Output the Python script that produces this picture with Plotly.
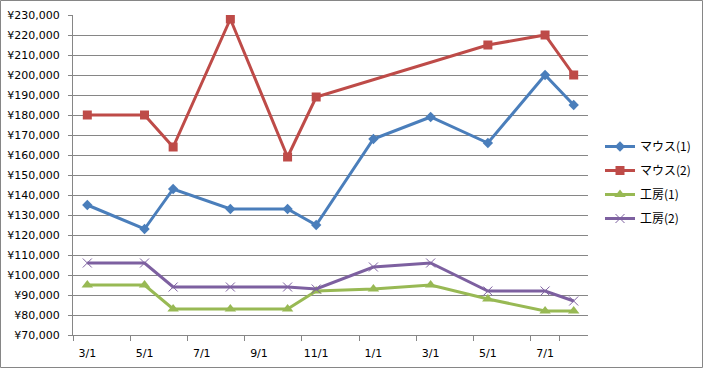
import plotly.graph_objects as go

# all months on the axis (category slots)
months = ["2011-03", "2011-04", "2011-05", "2011-06", "2011-07", "2011-08", "2011-09",
          "2011-10", "2011-11", "2011-12", "2012-01", "2012-02", "2012-03", "2012-04",
          "2012-05", "2012-06", "2012-07", "2012-08"]
tick_months = ["2011-03", "2011-05", "2011-07", "2011-09", "2011-11",
               "2012-01", "2012-03", "2012-05", "2012-07"]
tick_labels = ["3/1", "5/1", "7/1", "9/1", "11/1", "1/1", "3/1", "5/1", "7/1"]

# observation months
dates = ["2011-03", "2011-05", "2011-06", "2011-08", "2011-10", "2011-11",
         "2012-01", "2012-03", "2012-05", "2012-07", "2012-08"]

mouse1 = [135000, 123000, 143000, 133000, 133000, 125000, 168000, 179000, 166000, 200000, 185000]
mouse2 = [180000, 180000, 164000, 228000, 159000, 189000, None, None, 215000, 220000, 200000]
kobo1 = [95000, 95000, 83000, 83000, 83000, 92000, 93000, 95000, 88000, 82000, 82000]
kobo2 = [106000, 106000, 94000, 94000, 94000, 93000, 104000, 106000, 92000, 92000, 87000]

series_names = ["マウス(1)", "マウス(2)", "工房(1)", "工房(2)"]

font_family = "DejaVu Sans, Noto Sans CJK JP, sans-serif"

fig = go.Figure()
styles = [
    dict(color="#4A7EBB", symbol="diamond", size=8, lw=0),
    dict(color="#BE4B48", symbol="square", size=9, lw=0),
    dict(color="#98B954", symbol="triangle-up", size=10, lw=0),
    dict(color="#7D60A0", symbol="x-thin", size=9, lw=1),
]
for name, vals, st in zip(series_names, [mouse1, mouse2, kobo1, kobo2], styles):
    marker = dict(symbol=st["symbol"], size=st["size"], color=st["color"])
    if st["lw"]:
        marker["line"] = dict(color=st["color"], width=1)
    fig.add_trace(go.Scatter(
        x=dates, y=vals, name=name, mode="lines+markers",
        connectgaps=True,
        line=dict(color=st["color"], width=3),
        marker=marker,
        legendgroup=name,
    ))

L, R, T, B = 73, 115, 15, 33
W, H = 703, 368
pw, ph = W - L - R, H - T - B

fig.update_layout(
    width=W, height=H,
    margin=dict(l=L, r=R, t=T, b=B, autoexpand=False),
    paper_bgcolor="white", plot_bgcolor="white",
    font=dict(family=font_family, size=11, color="black"),
    showlegend=True,
    legend=dict(x=(600 - L) / pw, y=(ph - (132 - T)) / ph, xanchor="left", yanchor="top",
                font=dict(size=12, family="Noto Sans CJK JP, DejaVu Sans, sans-serif"),
                tracegroupgap=5, itemwidth=30,
                bgcolor="rgba(0,0,0,0)"),
    xaxis=dict(
        type="category", categoryorder="array", categoryarray=months,
        range=[-0.5, len(months) - 0.5],
        tickmode="array", tickvals=tick_months, ticktext=tick_labels,
        tickson="boundaries", ticks="outside", ticklen=5, tickcolor="#868686",
        tickangle=0, automargin=False, ticklabelstandoff=8,
        showgrid=False, showline=True, linecolor="#868686", linewidth=1,
        zeroline=False, tickfont=dict(size=11),
    ),
    yaxis=dict(
        range=[70000, 230000], dtick=10000, tick0=70000,
        tickprefix="¥", tickformat=",d", automargin=False, ticklabelstandoff=6,
        showgrid=True, gridcolor="#868686", gridwidth=1,
        showline=True, linecolor="#868686", linewidth=1,
        ticks="outside", ticklen=4, tickcolor="#868686",
        zeroline=False, tickfont=dict(size=11),
    ),
    shapes=[dict(type="rect", xref="paper", yref="paper",
                 x0=(0.5 - L) / pw, x1=(W - 0.5 - L) / pw,
                 y0=-(B - 0.5) / ph, y1=1 + (T - 0.5) / ph,
                 line=dict(color="#868686", width=1), layer="below")],
)

fig.write_html("out.html",
               config={"displayModeBar": False},
               post_script="document.body.style.margin='0';document.body.style.overflow='hidden';")
